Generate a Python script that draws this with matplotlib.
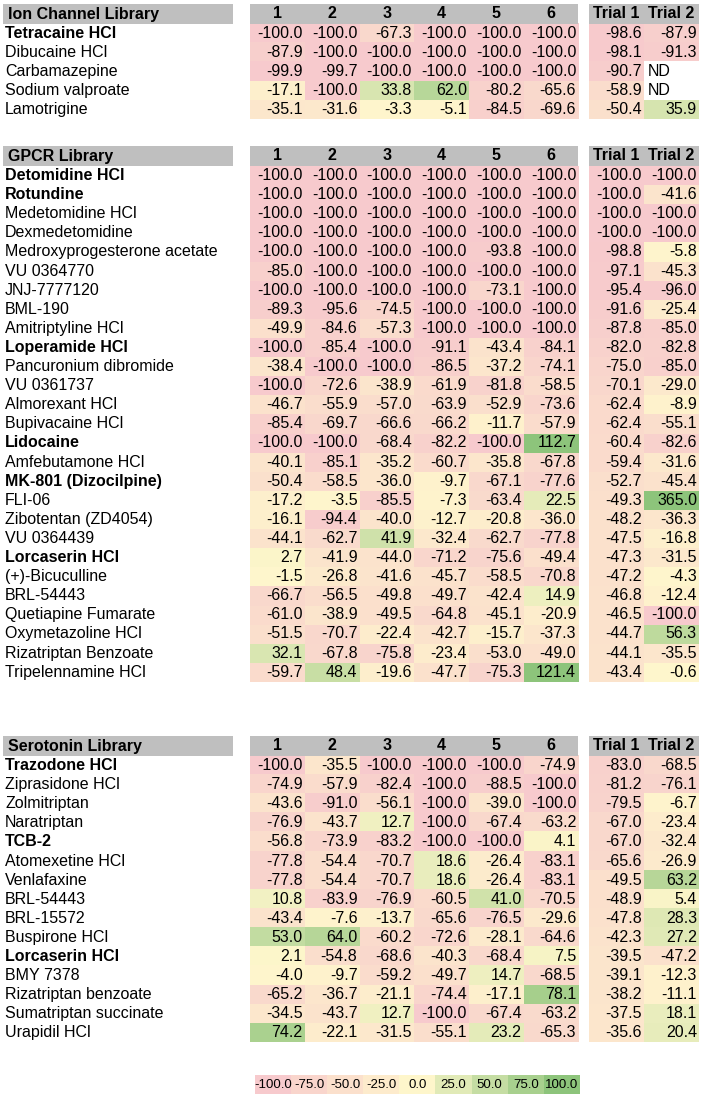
import numpy as np
import matplotlib
matplotlib.use('Agg')
import matplotlib.pyplot as plt
from matplotlib.colors import LinearSegmentedColormap, Normalize
from matplotlib.patches import Rectangle

plt.rcParams['font.family'] = ['Liberation Sans', 'DejaVu Sans']

ND = np.nan

# ---- data ----
col_labels = ['1', '2', '3', '4', '5', '6']
trial_labels = ['Trial 1', 'Trial 2']

ion_names = ['Tetracaine HCl', 'Dibucaine HCl', 'Carbamazepine', 'Sodium valproate', 'Lamotrigine']
ion_bold = [True, False, False, False, False]
ion_values = [
    [-100.0, -100.0, -67.3, -100.0, -100.0, -100.0],
    [-87.9, -100.0, -100.0, -100.0, -100.0, -100.0],
    [-99.9, -99.7, -100.0, -100.0, -100.0, -100.0],
    [-17.1, -100.0, 33.8, 62.0, -80.2, -65.6],
    [-35.1, -31.6, -3.3, -5.1, -84.5, -69.6],
]
ion_trials = [
    [-98.6, -87.9],
    [-98.1, -91.3],
    [-90.7, ND],
    [-58.9, ND],
    [-50.4, 35.9],
]

gpcr_names = ['Detomidine HCl', 'Rotundine', 'Medetomidine HCl', 'Dexmedetomidine',
              'Medroxyprogesterone acetate', 'VU 0364770', 'JNJ-7777120', 'BML-190',
              'Amitriptyline HCl', 'Loperamide HCl', 'Pancuronium dibromide', 'VU 0361737',
              'Almorexant HCl', 'Bupivacaine HCl', 'Lidocaine', 'Amfebutamone HCl',
              'MK-801 (Dizocilpine)', 'FLI-06', 'Zibotentan (ZD4054)', 'VU 0364439',
              'Lorcaserin HCl', '(+)-Bicuculline', 'BRL-54443', 'Quetiapine Fumarate',
              'Oxymetazoline HCl', 'Rizatriptan Benzoate', 'Tripelennamine HCl']
gpcr_bold = ['Detomidine HCl', 'Rotundine', 'Loperamide HCl', 'Lidocaine',
             'MK-801 (Dizocilpine)', 'Lorcaserin HCl']
gpcr_values = [
    [-100.0, -100.0, -100.0, -100.0, -100.0, -100.0],
    [-100.0, -100.0, -100.0, -100.0, -100.0, -100.0],
    [-100.0, -100.0, -100.0, -100.0, -100.0, -100.0],
    [-100.0, -100.0, -100.0, -100.0, -100.0, -100.0],
    [-100.0, -100.0, -100.0, -100.0, -93.8, -100.0],
    [-85.0, -100.0, -100.0, -100.0, -100.0, -100.0],
    [-100.0, -100.0, -100.0, -100.0, -73.1, -100.0],
    [-89.3, -95.6, -74.5, -100.0, -100.0, -100.0],
    [-49.9, -84.6, -57.3, -100.0, -100.0, -100.0],
    [-100.0, -85.4, -100.0, -91.1, -43.4, -84.1],
    [-38.4, -100.0, -100.0, -86.5, -37.2, -74.1],
    [-100.0, -72.6, -38.9, -61.9, -81.8, -58.5],
    [-46.7, -55.9, -57.0, -63.9, -52.9, -73.6],
    [-85.4, -69.7, -66.6, -66.2, -11.7, -57.9],
    [-100.0, -100.0, -68.4, -82.2, -100.0, 112.7],
    [-40.1, -85.1, -35.2, -60.7, -35.8, -67.8],
    [-50.4, -58.5, -36.0, -9.7, -67.1, -77.6],
    [-17.2, -3.5, -85.5, -7.3, -63.4, 22.5],
    [-16.1, -94.4, -40.0, -12.7, -20.8, -36.0],
    [-44.1, -62.7, 41.9, -32.4, -62.7, -77.8],
    [2.7, -41.9, -44.0, -71.2, -75.6, -49.4],
    [-1.5, -26.8, -41.6, -45.7, -58.5, -70.8],
    [-66.7, -56.5, -49.8, -49.7, -42.4, 14.9],
    [-61.0, -38.9, -49.5, -64.8, -45.1, -20.9],
    [-51.5, -70.7, -22.4, -42.7, -15.7, -37.3],
    [32.1, -67.8, -75.8, -23.4, -53.0, -49.0],
    [-59.7, 48.4, -19.6, -47.7, -75.3, 121.4],
]
gpcr_trials = [
    [-100.0, -100.0], [-100.0, -41.6], [-100.0, -100.0], [-100.0, -100.0],
    [-98.8, -5.8], [-97.1, -45.3], [-95.4, -96.0], [-91.6, -25.4],
    [-87.8, -85.0], [-82.0, -82.8], [-75.0, -85.0], [-70.1, -29.0],
    [-62.4, -8.9], [-62.4, -55.1], [-60.4, -82.6], [-59.4, -31.6],
    [-52.7, -45.4], [-49.3, 365.0], [-48.2, -36.3], [-47.5, -16.8],
    [-47.3, -31.5], [-47.2, -4.3], [-46.8, -12.4], [-46.5, -100.0],
    [-44.7, 56.3], [-44.1, -35.5], [-43.4, -0.6],
]

sero_names = ['Trazodone HCl', 'Ziprasidone HCl', 'Zolmitriptan', 'Naratriptan', 'TCB-2',
              'Atomexetine HCl', 'Venlafaxine', 'BRL-54443', 'BRL-15572', 'Buspirone HCl',
              'Lorcaserin HCl', 'BMY 7378', 'Rizatriptan benzoate', 'Sumatriptan succinate',
              'Urapidil HCl']
sero_bold = ['Trazodone HCl', 'TCB-2', 'Lorcaserin HCl']
sero_values = [
    [-100.0, -35.5, -100.0, -100.0, -100.0, -74.9],
    [-74.9, -57.9, -82.4, -100.0, -88.5, -100.0],
    [-43.6, -91.0, -56.1, -100.0, -39.0, -100.0],
    [-76.9, -43.7, 12.7, -100.0, -67.4, -63.2],
    [-56.8, -73.9, -83.2, -100.0, -100.0, 4.1],
    [-77.8, -54.4, -70.7, 18.6, -26.4, -83.1],
    [-77.8, -54.4, -70.7, 18.6, -26.4, -83.1],
    [10.8, -83.9, -76.9, -60.5, 41.0, -70.5],
    [-43.4, -7.6, -13.7, -65.6, -76.5, -29.6],
    [53.0, 64.0, -60.2, -72.6, -28.1, -64.6],
    [2.1, -54.8, -68.6, -40.3, -68.4, 7.5],
    [-4.0, -9.7, -59.2, -49.7, 14.7, -68.5],
    [-65.2, -36.7, -21.1, -74.4, -17.1, 78.1],
    [-34.5, -43.7, 12.7, -100.0, -67.4, -63.2],
    [74.2, -22.1, -31.5, -55.1, 23.2, -65.3],
]
sero_trials = [
    [-83.0, -68.5], [-81.2, -76.1], [-79.5, -6.7], [-67.0, -23.4], [-67.0, -32.4],
    [-65.6, -26.9], [-49.5, 63.2], [-48.9, 5.4], [-47.8, 28.3], [-42.3, 27.2],
    [-39.5, -47.2], [-39.1, -12.3], [-38.2, -11.1], [-37.5, 18.1], [-35.6, 20.4],
]

legend_values = [-100.0, -75.0, -50.0, -25.0, 0.0, 25.0, 50.0, 75.0, 100.0]

sections = [
    ('Ion Channel Library', ion_names, ion_bold, ion_values, ion_trials, 4),
    ('GPCR Library', gpcr_names, [n in gpcr_bold for n in gpcr_names], gpcr_values, gpcr_trials, 146),
    ('Serotonin Library', sero_names, [n in sero_bold for n in sero_names], sero_values, sero_trials, 736),
]

# ---- layout (pixels) ----
W, H = 701, 1097
label_x0, label_x1 = 3, 233
data_x0, data_w = 250, 54.7
trial_x0, trial_w = 589, 55.0
head_h = 20
row_h = 19.1
header_grey = '#bfbfbf'
fs = 11.5

cmap = LinearSegmentedColormap.from_list('rg', ['#f7cacd', '#fff7cc', '#8dc47b'])
cmap.set_bad('white')
norm = Normalize(-100, 100)

fig = plt.figure(figsize=(W / 100, H / 100), dpi=100)
ax = fig.add_axes([0, 0, 1, 1])
ax.set_xlim(0, W)
ax.set_ylim(H, 0)
ax.axis('off')


def draw_block(vals, x0, cw, y0):
    arr = np.array(vals, dtype=float)
    nr, nc = arr.shape
    ax.imshow(np.ma.masked_invalid(np.clip(arr, -100, 100)), cmap=cmap, norm=norm,
              extent=(x0, x0 + nc * cw, y0 + nr * row_h, y0), aspect='auto',
              interpolation='nearest')
    for i in range(nr):
        for j in range(nc):
            yc = y0 + (i + 0.5) * row_h
            v = arr[i, j]
            if np.isnan(v):
                ax.text(x0 + j * cw + 4, yc, 'ND', ha='left', va='center', fontsize=fs)
            else:
                ax.text(x0 + (j + 1) * cw - 2, yc, f'{v:.1f}', ha='right', va='center', fontsize=fs)


for title, names, bold, vals, trials, top in sections:
    # header bars
    ax.add_patch(Rectangle((label_x0, top), label_x1 - label_x0, head_h, color=header_grey, lw=0))
    ax.add_patch(Rectangle((data_x0, top), data_w * 6, head_h, color=header_grey, lw=0))
    ax.add_patch(Rectangle((trial_x0, top), trial_w * 2, head_h, color=header_grey, lw=0))
    hc = top + head_h / 2
    ax.text(label_x0 + 5, hc, title, ha='left', va='center', fontsize=fs, fontweight='bold')
    for j, c in enumerate(col_labels):
        ax.text(data_x0 + (j + 0.5) * data_w, hc, c, ha='center', va='center', fontsize=fs, fontweight='bold')
    for j, c in enumerate(trial_labels):
        ax.text(trial_x0 + (j + 0.5) * trial_w, hc, c, ha='center', va='center', fontsize=fs, fontweight='bold')

    y0 = top + head_h
    for i, (n, b) in enumerate(zip(names, bold)):
        ax.text(label_x0 + 2, y0 + (i + 0.5) * row_h, n, ha='left', va='center', fontsize=fs,
                fontweight='bold' if b else 'normal')
    draw_block(vals, data_x0, data_w, y0)
    draw_block(trials, trial_x0, trial_w, y0)

# legend strip
leg_x0, leg_w, leg_y0, leg_h = 255, 36.1, 1075, 19
ax.imshow(np.array([legend_values]), cmap=cmap, norm=norm,
          extent=(leg_x0, leg_x0 + leg_w * len(legend_values), leg_y0 + leg_h, leg_y0),
          aspect='auto', interpolation='nearest')
for j, v in enumerate(legend_values):
    ax.text(leg_x0 + (j + 0.5) * leg_w, leg_y0 + leg_h / 2, f'{v:.1f}', ha='center', va='center',
            fontsize=9.5)

ax.set_xlim(0, W)
ax.set_ylim(H, 0)
fig.savefig('out.png', dpi=100)
